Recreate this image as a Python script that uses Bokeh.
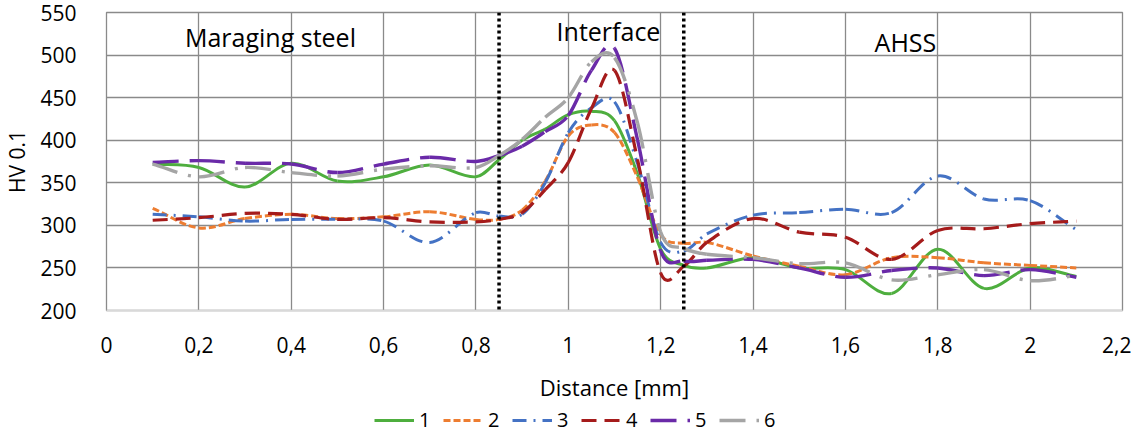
from bokeh.plotting import figure
from bokeh.layouts import column
from bokeh.models import Range1d, FixedTicker, Legend, LegendItem, Label, Span
from bokeh.embed import file_html
from bokeh.resources import INLINE

# ---------------- data ----------------
distance = [0.1, 0.2, 0.3, 0.4, 0.5, 0.6, 0.7, 0.8, 0.85, 0.9, 0.95, 1.0, 1.05,
            1.1, 1.15, 1.2, 1.25, 1.3, 1.4, 1.5, 1.6, 1.7, 1.8, 1.9, 2.0, 2.1]
hv_1 = [372, 368, 345, 373, 352, 357, 371, 357, 377, 400, 413, 430, 434,
        423, 360, 272, 253, 250, 262, 250, 248, 220, 272, 226, 250, 240]
hv_2 = [320, 297, 308, 313, 308, 310, 316, 307, 307, 318, 352, 405, 418,
        409, 356, 289, 279, 280, 264, 252, 242, 262, 262, 256, 253, 250]
hv_3 = [313, 310, 305, 307, 307, 305, 280, 315, 311, 313, 350, 409, 438,
        445, 372, 280, 270, 290, 312, 315, 319, 315, 358, 331, 329, 295]
hv_4 = [306, 309, 314, 313, 307, 309, 304, 304, 307, 315, 342, 374, 437,
        482, 377, 244, 252, 280, 308, 292, 286, 260, 294, 296, 302, 305]
hv_5 = [374, 376, 373, 372, 362, 372, 380, 375, 382, 393, 410, 429, 482,
        508, 400, 270, 258, 259, 260, 250, 239, 247, 250, 241, 248, 239]
hv_6 = [372, 357, 368, 362, 358, 366, 370, 368, 382, 401, 427, 450, 492,
        497, 420, 292, 273, 266, 262, 255, 256, 236, 242, 248, 235, 241]

series_names = ["1", "2", "3", "4", "5", "6"]
series_values = [hv_1, hv_2, hv_3, hv_4, hv_5, hv_6]

x_ticks = [0, 0.2, 0.4, 0.6, 0.8, 1.0, 1.2, 1.4, 1.6, 1.8, 2.0, 2.2]
x_tick_labels = ["0", "0,2", "0,4", "0,6", "0,8", "1", "1,2", "1,4", "1,6", "1,8", "2", "2,2"]
y_ticks = [200, 250, 300, 350, 400, 450, 500, 550]

zone_bounds = [0.85, 1.25]
zone_names = ["Maraging steel", "Interface", "AHSS"]
zone_label_x = [0.355, 1.087, 1.73]
zone_label_y = [521, 528, 515]

# ---------------- styles ----------------
colors = ["#4EAE3E", "#ED7D31", "#4472C4", "#A51B1B", "#6A2AA8", "#A5A5A5"]
dashes = ["solid", "7 3", "14 7 2 7", "15 8", "26 11", "26 11 3 11"]
widths = [3, 3, 3, 3.2, 3.4, 3.4]
FONT = "Open Sans"

p = figure(frame_width=1016, frame_height=298, output_backend="svg", toolbar_location=None,
           x_range=Range1d(0, 2.2), y_range=Range1d(200, 550),
           min_border_left=94, min_border_right=9, min_border_top=12,
           min_border_bottom=83)
p.outline_line_color = "#8a8a8a"
p.outline_line_width = 1.3
p.background_fill_color = "white"
p.border_fill_color = "white"

for g in (p.xgrid[0], p.ygrid[0]):
    g.grid_line_color = "#8a8a8a"
    g.grid_line_width = 1.3
p.xgrid[0].ticker = FixedTicker(ticks=x_ticks)
p.ygrid[0].ticker = FixedTicker(ticks=y_ticks)

xa = p.xaxis[0]
xa.ticker = FixedTicker(ticks=x_ticks)
xa.major_label_overrides = {t: l for t, l in zip(x_ticks, x_tick_labels)}
xa.major_tick_line_color = None
xa.minor_tick_line_color = None
xa.axis_line_color = "#d9d9d9"
xa.axis_line_width = 1.5
xa.major_label_standoff = 20
xa.major_label_text_font = FONT
xa.major_label_text_font_size = "21px"
xa.major_label_text_color = "black"
xa.axis_label = "Distance [mm]"
xa.axis_label_text_font = FONT
xa.axis_label_text_font_size = "22px"
xa.axis_label_text_font_style = "normal"
xa.axis_label_text_color = "black"
xa.axis_label_standoff = 16

ya = p.yaxis[0]
ya.ticker = FixedTicker(ticks=y_ticks)
ya.major_tick_line_color = None
ya.minor_tick_line_color = None
ya.axis_line_color = None
ya.major_label_standoff = 24
ya.major_label_text_font = FONT
ya.major_label_text_font_size = "21px"
ya.major_label_text_color = "black"
ya.axis_label = "HV 0.1"
ya.axis_label_text_font = FONT
ya.axis_label_text_font_size = "21px"
ya.axis_label_text_font_style = "normal"
ya.axis_label_text_color = "black"
ya.axis_label_standoff = 6


def smooth_segments(xs, ys):
    """Bezier control points for an Excel-like smoothed line through the points."""
    n = len(xs)
    m = []
    for i in range(n):
        a = max(i - 1, 0)
        b = min(i + 1, n - 1)
        m.append((ys[b] - ys[a]) / (xs[b] - xs[a]))
    seg = dict(x0=[], y0=[], x1=[], y1=[], cx0=[], cy0=[], cx1=[], cy1=[])
    for i in range(n - 1):
        h = xs[i + 1] - xs[i]
        seg["x0"].append(xs[i]); seg["y0"].append(ys[i])
        seg["x1"].append(xs[i + 1]); seg["y1"].append(ys[i + 1])
        seg["cx0"].append(xs[i] + h / 3); seg["cy0"].append(ys[i] + m[i] * h / 3)
        seg["cx1"].append(xs[i + 1] - h / 3); seg["cy1"].append(ys[i + 1] - m[i + 1] * h / 3)
    return seg


# legend strip as its own small figure below the chart; its lines carry the
# same series but fall outside its (0..1) ranges, so only the legend shows
leg_fig = figure(width=1119, height=30, output_backend="svg", toolbar_location=None,
                 x_range=Range1d(0, 1), y_range=Range1d(0, 1), min_border=0)
leg_fig.axis.visible = False
leg_fig.grid.visible = False
leg_fig.outline_line_color = None

items = []
for name, vals, c, d, w in zip(series_names, series_values, colors, dashes, widths):
    s = smooth_segments(distance, vals)
    p.bezier(line_color=c, line_width=w, line_dash=d, **s)
    proxy = leg_fig.line(x=distance, y=vals, line_color=c, line_width=w, line_dash=d)
    items.append(LegendItem(label=name, renderers=[proxy]))

for b in zone_bounds:
    p.add_layout(Span(location=b, dimension="height", line_color="black",
                      line_width=3.5, line_dash="3 3"))

for t, lx, ly in zip(zone_names, zone_label_x, zone_label_y):
    p.add_layout(Label(x=lx, y=ly, text=t, text_align="center", text_baseline="middle",
                       text_font=FONT, text_font_size="25px", text_color="black"))

legend = Legend(items=items, orientation="horizontal", location=(268, 1),
                border_line_color=None, background_fill_alpha=0,
                label_text_font=FONT, label_text_font_size="20px",
                label_text_color="black", label_width=12,
                glyph_width=40, glyph_height=20, label_standoff=5, spacing=12,
                padding=0, margin=0)
leg_fig.add_layout(legend, "center")

layout = column(p, leg_fig, spacing=0)
open("out.html", "w").write(file_html(layout, INLINE))
